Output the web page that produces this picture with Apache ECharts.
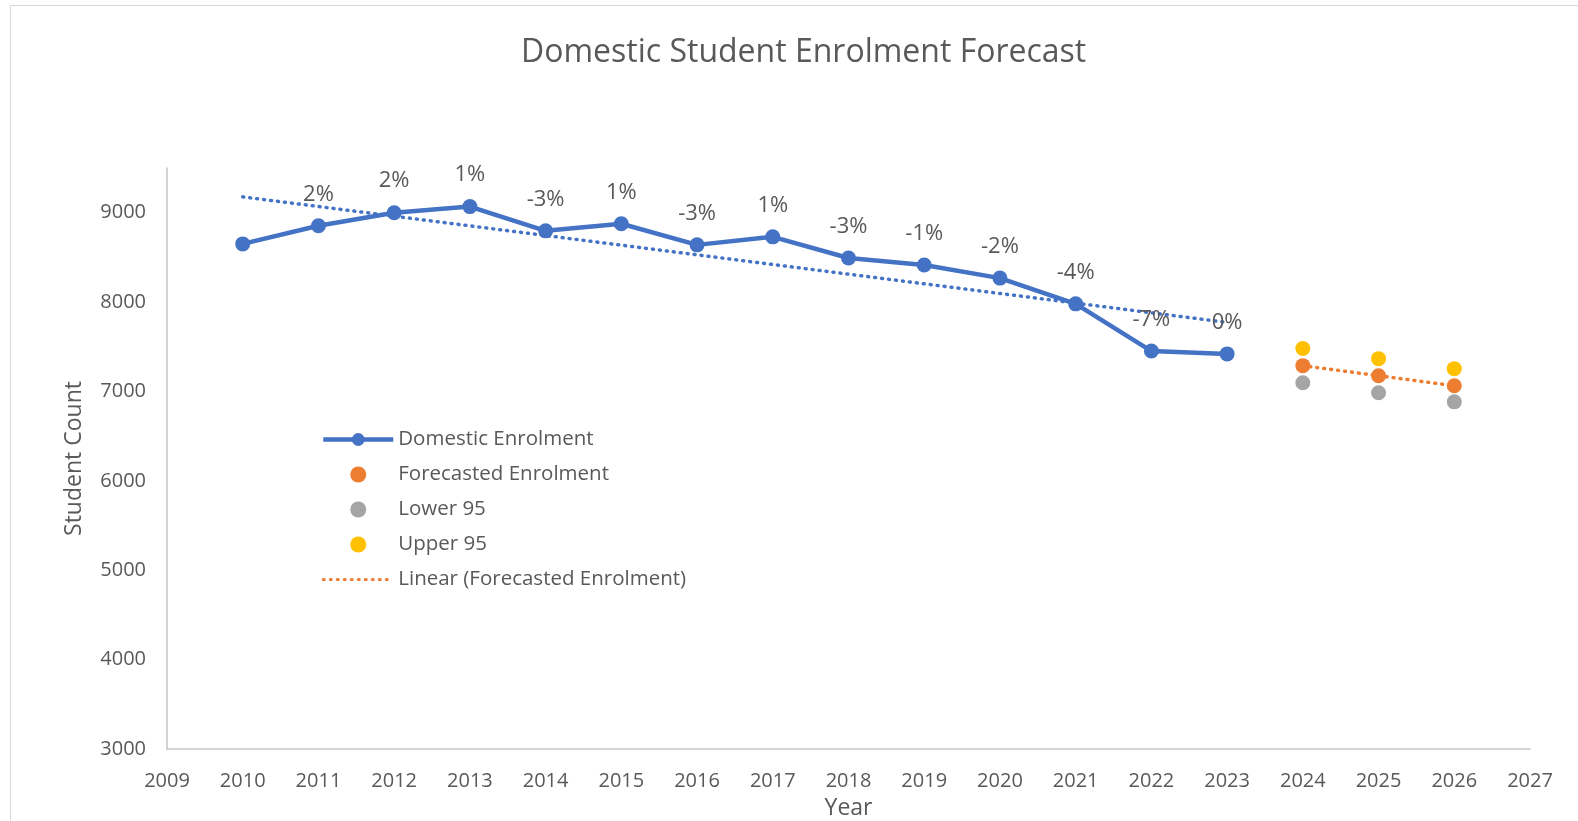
<!DOCTYPE html>
<html>
<head>
<meta charset="utf-8">
<script src="https://cdn.jsdelivr.net/npm/echarts@6/dist/echarts.min.js"></script>
<style>
  html, body { margin: 0; padding: 0; background: #fff; }
  #frame { position: absolute; left: 10px; top: 5px; width: 1600px; height: 900px; border: 1px solid #d9d9d9; box-sizing: border-box; }
  #chart { position: absolute; left: 0; top: 0; width: 1578px; height: 821px; }
</style>
</head>
<body>
<div id="frame"></div>
<div id="chart"></div>
<script>
// ---- data ----
const years = [2010, 2011, 2012, 2013, 2014, 2015, 2016, 2017, 2018, 2019, 2020, 2021, 2022, 2023];
const domestic = [8651, 8854, 9000, 9068, 8797, 8876, 8640, 8730, 8493, 8415, 8268, 7980, 7452, 7420];
const changeLabels = ['', '2%', '2%', '1%', '-3%', '1%', '-3%', '1%', '-3%', '-1%', '-2%', '-4%', '-7%', '0%'];
const forecastYears = [2024, 2025, 2026];
const forecast = [7289, 7176, 7064];
const lower95 = [7097, 6985, 6884];
const upper95 = [7480, 7367, 7255];
const xMin = 2009, xMax = 2027, xStep = 1;
const yMin = 3000, yMax = 9500, yStep = 1000;

// linear trendline (least squares) from data
function trend(xs, ys) {
  const n = xs.length;
  const mx = xs.reduce((a, b) => a + b, 0) / n;
  const my = ys.reduce((a, b) => a + b, 0) / n;
  let sxy = 0, sxx = 0;
  for (let i = 0; i < n; i++) { sxy += (xs[i] - mx) * (ys[i] - my); sxx += (xs[i] - mx) * (xs[i] - mx); }
  const b = sxy / sxx, a = my - b * mx;
  return [[xs[0], a + b * xs[0]], [xs[n - 1], a + b * xs[n - 1]]];
}

const FONT = 'Open Sans';
const TXT = '#595959';
const BLUE = '#4472C4', ORANGE = '#ED7D31', GRAY = '#A5A5A5', GOLD = '#FFC000';

const chart = echarts.init(document.getElementById('chart'));
chart.setOption({
  animation: false,
  textStyle: { fontFamily: FONT, color: TXT },
  title: {
    text: 'Domestic Student Enrolment Forecast',
    left: 516, top: 32,
    textStyle: { fontFamily: FONT, fontSize: 32, fontWeight: 'normal', color: TXT }
  },
  legend: {
    orient: 'vertical', left: 316, top: 424,
    itemWidth: 70, itemHeight: 16, itemGap: 14,
    textStyle: { fontFamily: FONT, fontSize: 20.5, color: TXT },
    data: [
      { name: 'Domestic Enrolment', lineStyle: { width: 4.5 } },
      'Forecasted Enrolment', 'Lower 95', 'Upper 95',
      { name: 'Linear (Forecasted Enrolment)', itemStyle: { opacity: 0 }, lineStyle: { width: 3 } }
    ]
  },
  grid: { left: 167, right: 48, top: 168, bottom: 72, containLabel: false, outerBoundsMode: 'none' },
  xAxis: {
    type: 'value', min: xMin, max: xMax, interval: xStep,
    name: 'Year', nameLocation: 'middle', nameGap: 48,
    nameTextStyle: { fontFamily: FONT, fontSize: 23, color: TXT },
    axisLine: { show: true, lineStyle: { color: '#c6c6c6', width: 1.5 } },
    axisTick: { show: false },
    splitLine: { show: false },
    axisLabel: { fontFamily: FONT, fontSize: 20, color: TXT, margin: 22, formatter: v => String(v) }
  },
  yAxis: {
    type: 'value', min: yMin, max: yMax, interval: yStep,
    name: 'Student Count', nameLocation: 'middle', nameGap: 81,
    nameTextStyle: { fontFamily: FONT, fontSize: 23, color: TXT },
    axisLine: { show: true, lineStyle: { color: '#c6c6c6', width: 1.5 } },
    axisTick: { show: false },
    splitLine: { show: false },
    axisLabel: { fontFamily: FONT, fontSize: 20, color: TXT, margin: 21,
      formatter: v => (v % yStep === 0 ? String(v) : '') }
  },
  series: [
    {
      name: 'Linear (Domestic Enrolment)', type: 'line', data: trend(years, domestic),
      symbol: 'none', silent: true, z: 1,
      lineStyle: { color: BLUE, width: 3.5, type: [1, 6], cap: 'round' }
    },
    {
      name: 'Linear (Forecasted Enrolment)', type: 'line', data: trend(forecastYears, forecast),
      symbol: 'none', silent: true, z: 1, itemStyle: { color: ORANGE },
      lineStyle: { color: ORANGE, width: 3.5, type: [1, 6], cap: 'round' }
    },
    {
      name: 'Domestic Enrolment', type: 'line',
      data: years.map((y, i) => [y, domestic[i]]),
      symbol: 'circle', symbolSize: 15, z: 3,
      itemStyle: { color: BLUE },
      lineStyle: { color: BLUE, width: 4.5 },
      label: {
        show: true, position: 'top', distance: 13,
        fontFamily: FONT, fontSize: 22, color: TXT,
        formatter: p => changeLabels[p.dataIndex]
      }
    },
    {
      name: 'Forecasted Enrolment', type: 'scatter', symbolSize: 15, z: 4,
      data: forecastYears.map((y, i) => [y, forecast[i]]),
      itemStyle: { color: ORANGE, opacity: 1 }
    },
    {
      name: 'Lower 95', type: 'scatter', symbolSize: 15, z: 4,
      data: forecastYears.map((y, i) => [y, lower95[i]]),
      itemStyle: { color: GRAY, opacity: 1 }
    },
    {
      name: 'Upper 95', type: 'scatter', symbolSize: 15, z: 4,
      data: forecastYears.map((y, i) => [y, upper95[i]]),
      itemStyle: { color: GOLD, opacity: 1 }
    }
  ]
});
</script>
</body>
</html>
